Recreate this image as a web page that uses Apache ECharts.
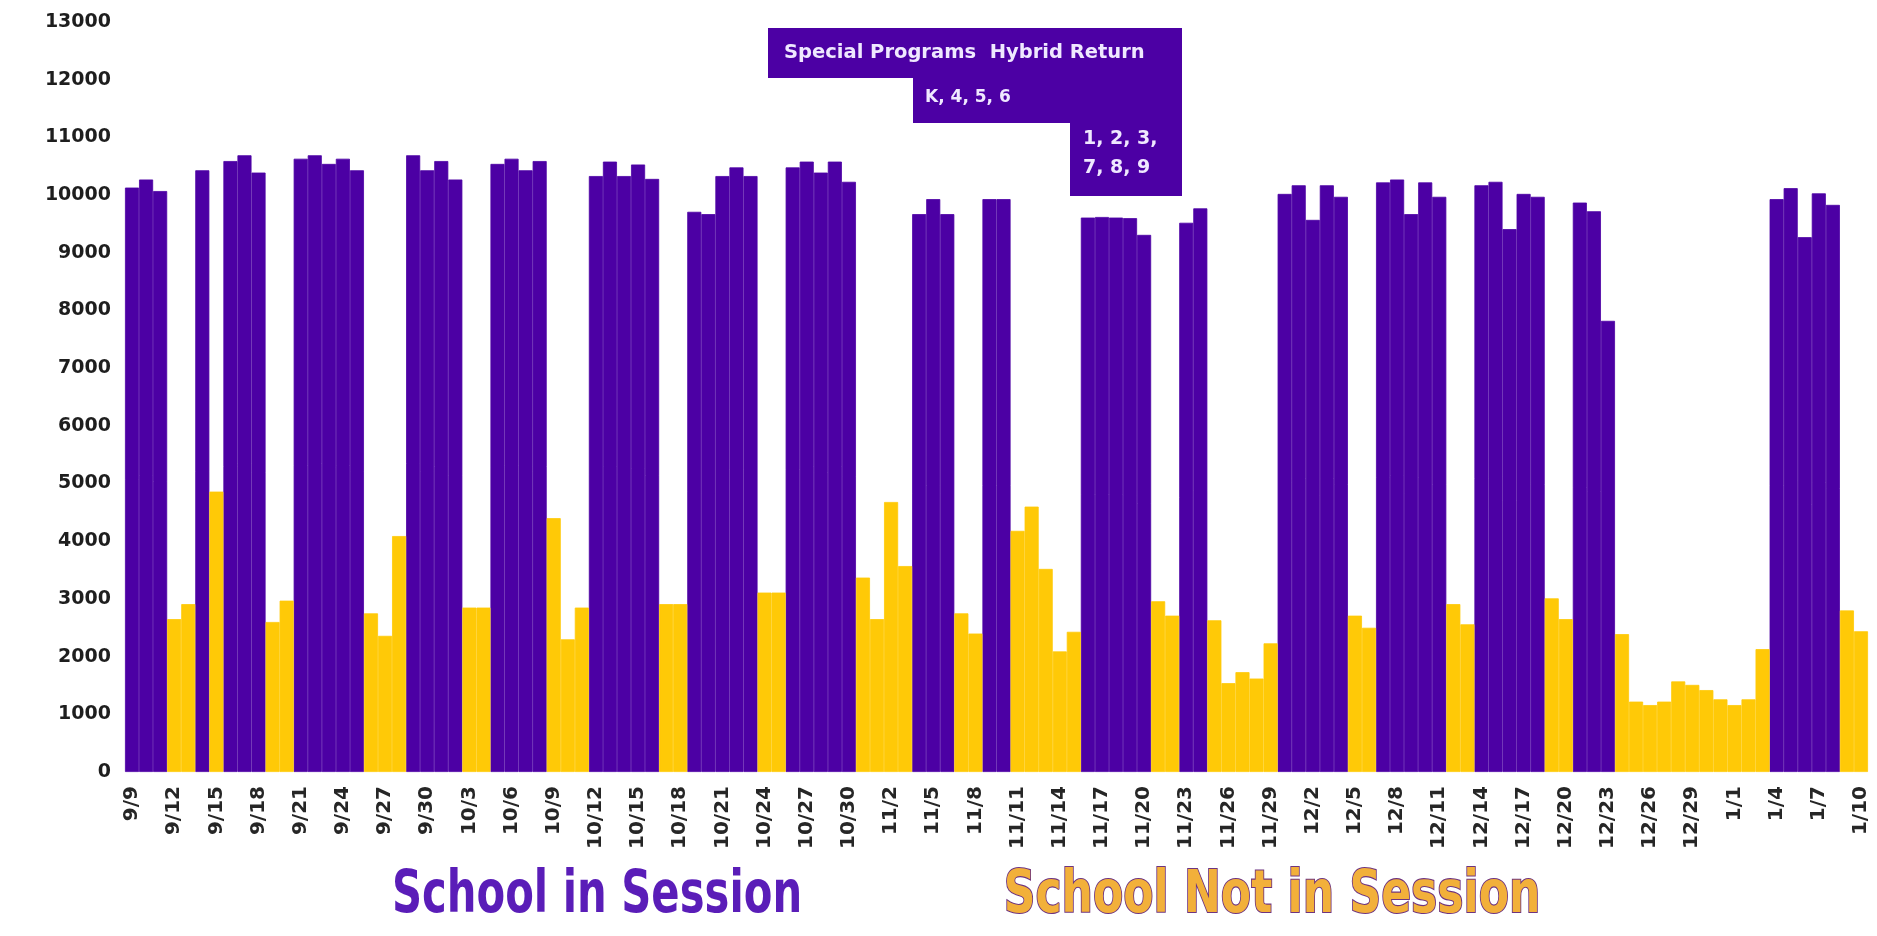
<!DOCTYPE html>
<html>
<head>
<meta charset="utf-8">
<script src="https://cdn.jsdelivr.net/npm/echarts@6/dist/echarts.min.js"></script>
<style>
  html, body { margin: 0; padding: 0; background: #ffffff; }
  #chart { width: 1877px; height: 936px; }
</style>
</head>
<body>
<div id="chart"></div>
<script>
const categories = [
  '9/9','9/10','9/11','9/12','9/13','9/14','9/15','9/16','9/17','9/18','9/19','9/20','9/21','9/22','9/23','9/24','9/25','9/26','9/27','9/28','9/29','9/30',
  '10/1','10/2','10/3','10/4','10/5','10/6','10/7','10/8','10/9','10/10','10/11','10/12','10/13','10/14','10/15','10/16','10/17','10/18','10/19','10/20','10/21','10/22','10/23','10/24','10/25','10/26','10/27','10/28','10/29','10/30','10/31',
  '11/1','11/2','11/3','11/4','11/5','11/6','11/7','11/8','11/9','11/10','11/11','11/12','11/13','11/14','11/15','11/16','11/17','11/18','11/19','11/20','11/21','11/22','11/23','11/24','11/25','11/26','11/27','11/28','11/29','11/30',
  '12/1','12/2','12/3','12/4','12/5','12/6','12/7','12/8','12/9','12/10','12/11','12/12','12/13','12/14','12/15','12/16','12/17','12/18','12/19','12/20','12/21','12/22','12/23','12/24','12/25','12/26','12/27','12/28','12/29','12/30','12/31',
  '1/1','1/2','1/3','1/4','1/5','1/6','1/7','1/8','1/9','1/10'
];

const inSession = [
  10130,10270,10070,null,null,10430,null,10590,10690,10390,null,null,10630,10690,10540,10630,10430,null,null,null,10690,10430,
  10590,10270,null,null,10540,10630,10430,10590,null,null,null,10330,10580,10330,10530,10280,null,null,9710,9670,10330,10480,10330,null,null,10480,10580,10390,10580,10230,null,
  null,null,null,9670,9930,9670,null,null,9930,9930,null,null,null,null,null,9610,9620,9610,9600,9310,null,null,9520,9770,null,null,null,null,null,10020,
  10170,9570,10170,9970,null,null,10220,10270,9670,10220,9970,null,null,10170,10230,9410,10020,9970,null,null,9870,9720,7820,null,null,null,null,null,null,null,null,
  null,null,null,9930,10120,9270,10030,9830,null,null
];

const notInSession = [
  null,null,null,2650,2910,null,4860,null,null,null,2600,2970,null,null,null,null,null,2750,2360,4090,null,null,
  null,null,2850,2850,null,null,null,null,4400,2300,2850,null,null,null,null,null,2910,2910,null,null,null,null,null,3110,3110,null,null,null,null,null,3370,
  2650,4680,3570,null,null,null,2750,2400,null,null,4180,4600,3520,2090,2430,null,null,null,null,null,2960,2710,null,null,2630,1540,1730,1620,2230,null,
  null,null,null,null,2710,2500,null,null,null,null,null,2910,2560,null,null,null,null,null,3010,2650,null,null,null,2390,1220,1160,1220,1570,1510,1420,1260,
  1160,1260,2130,null,null,null,null,null,2800,2440
];

const yTicks = { min: 0, max: 13000, interval: 1000 };

const PURPLE = '#4c00a4';
const GOLD = '#ffc907';

const chart = echarts.init(document.getElementById('chart'), null, { renderer: 'canvas' });

const boxText = (txt, x, y, size) => ({
  type: 'text', x: x, y: y, z: 20,
  style: { text: txt, fill: '#efe8ff', font: 'bold ' + size + 'px "DejaVu Sans"', textAlign: 'left', textVerticalAlign: 'middle' }
});

chart.setOption({
  animation: false,
  backgroundColor: '#ffffff',
  grid: { left: 125, right: 9, top: 22, bottom: 164, containLabel: false },
  xAxis: {
    type: 'category',
    data: categories,
    axisLine: { show: false },
    axisTick: { show: false },
    axisLabel: {
      interval: 2,
      rotate: 90,
      margin: 14,
      fontSize: 20,
      fontWeight: 'bold',
      fontFamily: 'DejaVu Sans',
      color: '#262626'
    }
  },
  yAxis: {
    type: 'value',
    min: yTicks.min,
    max: yTicks.max,
    interval: yTicks.interval,
    axisLine: { show: false },
    axisTick: { show: false },
    splitLine: { show: false },
    axisLabel: {
      margin: 14,
      fontSize: 19,
      fontWeight: 'bold',
      fontFamily: 'DejaVu Sans',
      color: '#1e1e1e',
      formatter: function (v) { return String(v); }
    }
  },
  series: [
    {
      name: 'School in Session',
      type: 'bar',
      data: inSession,
      barWidth: '100%',
      barGap: '-100%',
      barCategoryGap: '0%',
      itemStyle: { color: PURPLE, borderColor: PURPLE, borderWidth: 0.8 }
    },
    {
      name: 'School Not in Session',
      type: 'bar',
      data: notInSession,
      barWidth: '100%',
      barGap: '-100%',
      barCategoryGap: '0%',
      itemStyle: { color: GOLD, borderColor: GOLD, borderWidth: 0.8 }
    }
  ],
  graphic: [
    { type: 'rect', z: 10, shape: { x: 768, y: 28, width: 414, height: 50 }, style: { fill: PURPLE } },
    { type: 'rect', z: 10, shape: { x: 913, y: 77, width: 269, height: 46 }, style: { fill: PURPLE } },
    { type: 'rect', z: 10, shape: { x: 1070, y: 122, width: 112, height: 74 }, style: { fill: PURPLE } },
    boxText('Special Programs  Hybrid Return', 784, 53, 19.5),
    boxText('K, 4, 5, 6', 925, 98, 17),
    boxText('1, 2, 3,', 1083, 139, 19),
    boxText('7, 8, 9', 1083, 168, 19),
    {
      type: 'text', x: 597, y: 897, scaleX: 0.72, z: 20,
      style: { text: 'School in Session', fill: '#5a1db8', font: 'bold 58px "DejaVu Sans"', textAlign: 'center', textVerticalAlign: 'middle' }
    },
    {
      type: 'text', x: 1272, y: 897, scaleX: 0.76, z: 20,
      style: { text: 'School Not in Session', fill: '#f2b03a', stroke: '#6e3480', lineWidth: 2.2, font: 'bold 58px "DejaVu Sans"', textAlign: 'center', textVerticalAlign: 'middle' }
    }
  ]
});
</script>
</body>
</html>
